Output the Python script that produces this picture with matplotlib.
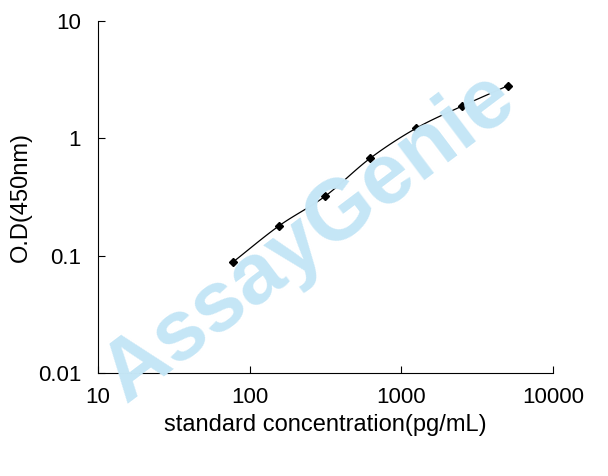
import matplotlib
matplotlib.use("Agg")
import matplotlib.pyplot as plt
import numpy as np

plt.rcParams['font.family'] = ['Liberation Sans', 'DejaVu Sans']

conc = [78.125, 156.25, 312.5, 625, 1250, 2500, 5000]
od = [0.089, 0.18, 0.32, 0.68, 1.22, 1.88, 2.8]
xticks = [10, 100, 1000, 10000]
yticks = [0.01, 0.1, 1, 10]

fig = plt.figure(figsize=(6.08, 4.76), dpi=100)
fig.text(0.51, 0.5, 'AssayGenie', fontsize=62, fontweight='bold', color='#c5e6f6',
         rotation=37, ha='center', va='center', zorder=0)
ax = fig.add_axes([0.161, 0.216, 0.749, 0.740])
ax.patch.set_alpha(0)
ax.set_xscale('log'); ax.set_yscale('log')
ax.set_xlim(10, 10000); ax.set_ylim(0.01, 10)

lx = np.log10(conc); ly = np.log10(od)
xs, ys = [], []
for i in range(len(lx) - 1):
    m0 = (ly[min(i+1, len(ly)-1)] - ly[max(i-1, 0)]) / (lx[min(i+1, len(lx)-1)] - lx[max(i-1, 0)])
    m1 = (ly[min(i+2, len(ly)-1)] - ly[i]) / (lx[min(i+2, len(lx)-1)] - lx[i])
    h = lx[i+1] - lx[i]
    s = np.linspace(0, 1, 20)
    h00 = 2*s**3 - 3*s**2 + 1; h10 = s**3 - 2*s**2 + s
    h01 = -2*s**3 + 3*s**2; h11 = s**3 - s**2
    xs.extend(lx[i] + s*h)
    ys.extend(h00*ly[i] + h10*h*m0 + h01*ly[i+1] + h11*h*m1)
ax.plot(10**np.array(xs), 10**np.array(ys), color='black', lw=0.9)
ax.plot(conc, od, 'D', color='black', ms=4.5)

ax.set_xticks(xticks); ax.set_xticklabels(['10', '100', '1000', '10000'])
ax.set_yticks(yticks); ax.set_yticklabels(['0.01', '0.1', '1', '10'])
ax.minorticks_off()
ax.tick_params(axis='both', labelsize=16, direction='in', length=5)
ax.tick_params(axis='x', pad=10)
ax.tick_params(axis='y', pad=12)
for s in ['top', 'right']:
    ax.spines[s].set_visible(False)
ax.set_xlabel('standard concentration(pg/mL)', fontsize=17, labelpad=4)
ax.set_ylabel('O.D(450nm)', fontsize=17, labelpad=4)

fig.savefig('out.png', dpi=100)
